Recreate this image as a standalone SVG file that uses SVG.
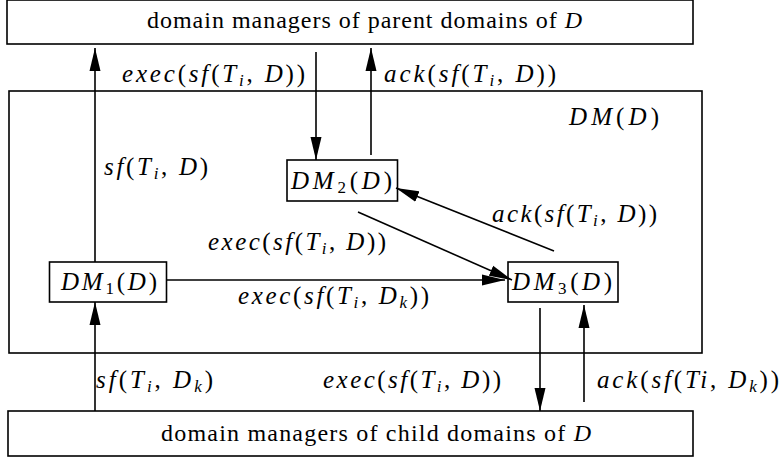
<svg xmlns="http://www.w3.org/2000/svg" width="784" height="460" viewBox="0 0 784 460">
  <style>
    .box { fill: none; stroke: #000; stroke-width: 1.6; }
    .edge { fill: none; stroke: #000; stroke-width: 1.6; marker-end: url(#head); }
    .m { font-family: "Liberation Serif", "DejaVu Serif", serif; font-style: italic; font-size: 25px; fill: #000; }
    .r { font-family: "Liberation Serif", "DejaVu Serif", serif; font-size: 24px; fill: #000; }
    .up { font-style: normal; }
    .sub { font-size: 17px; }
  </style>
  <defs>
    <marker id="head" markerUnits="userSpaceOnUse" markerWidth="24" markerHeight="12" refX="23" refY="6" orient="auto">
      <path d="M0,0.5 L23,6 L0,11.5 z" fill="#000"/>
    </marker>
  </defs>

  <rect width="784" height="460" fill="#fff"/>

  <!-- outer frame: the domain manager DM(D) -->
  <g id="dm">
    <rect class="box" x="9" y="91" width="693" height="262"/>
    <text class="m" x="569" y="125" textLength="90" lengthAdjust="spacing">DM<tspan class="up">(</tspan>D<tspan class="up">)</tspan></text>
  </g>

  <g id="parents">
    <rect class="box" x="7" y="0" width="686" height="44"/>
    <text class="r" x="147" y="28" textLength="435" lengthAdjust="spacing">domain managers of parent domains of <tspan font-style="italic">D</tspan></text>
  </g>

  <g id="children">
    <rect class="box" x="8" y="411" width="685" height="45"/>
    <text class="r" x="161" y="441" textLength="430" lengthAdjust="spacing">domain managers of child domains of <tspan font-style="italic">D</tspan></text>
  </g>

  <g id="dm1">
    <rect class="box" x="49.5" y="262" width="117" height="40"/>
    <text class="m" x="61" y="290" textLength="96" lengthAdjust="spacing">DM<tspan class="up sub" dy="4">1</tspan><tspan class="up" dy="-4">(</tspan>D<tspan class="up">)</tspan></text>
  </g>

  <g id="dm2">
    <rect class="box" x="287" y="160" width="110.5" height="41"/>
    <text class="m" x="291" y="189" textLength="101" lengthAdjust="spacing">DM<tspan class="up sub" dy="4">2</tspan><tspan class="up" dy="-4">(</tspan>D<tspan class="up">)</tspan></text>
  </g>

  <g id="dm3">
    <rect class="box" x="508" y="262" width="110" height="40"/>
    <text class="m" x="512" y="290" textLength="100" lengthAdjust="spacing">DM<tspan class="up sub" dy="4">3</tspan><tspan class="up" dy="-4">(</tspan>D<tspan class="up">)</tspan></text>
  </g>

  <!-- message flows -->
  <g id="connectors">
    <path class="edge" d="M95,262 L95,48"/>
    <path class="edge" d="M316,52 L316,160"/>
    <path class="edge" d="M371,155 L371,48"/>
    <path class="edge" d="M358,212 L512,280"/>
    <path class="edge" d="M554,251 L396,188"/>
    <path class="edge" d="M167,280 L505,280"/>
    <path class="edge" d="M540,308 L540,411"/>
    <path class="edge" d="M584,402 L584,305"/>
    <path class="edge" d="M95,411 L95,302"/>
  </g>

  <!-- flow labels -->
  <g id="labels">
    <text class="m" x="122" y="82" textLength="183" lengthAdjust="spacing">exec<tspan class="up">(</tspan>sf<tspan class="up">(</tspan>T<tspan class="sub" dy="4">i</tspan><tspan class="up" dy="-4">, </tspan>D<tspan class="up">))</tspan></text>
    <text class="m" x="384" y="82" textLength="172" lengthAdjust="spacing">ack<tspan class="up">(</tspan>sf<tspan class="up">(</tspan>T<tspan class="sub" dy="4">i</tspan><tspan class="up" dy="-4">, </tspan>D<tspan class="up">))</tspan></text>
    <text class="m" x="104" y="175" textLength="104" lengthAdjust="spacing">sf<tspan class="up">(</tspan>T<tspan class="sub" dy="4">i</tspan><tspan class="up" dy="-4">, </tspan>D<tspan class="up">)</tspan></text>
    <text class="m" x="208" y="250" textLength="178" lengthAdjust="spacing">exec<tspan class="up">(</tspan>sf<tspan class="up">(</tspan>T<tspan class="sub" dy="4">i</tspan><tspan class="up" dy="-4">, </tspan>D<tspan class="up">))</tspan></text>
    <text class="m" x="492" y="222" textLength="165" lengthAdjust="spacing">ack<tspan class="up">(</tspan>sf<tspan class="up">(</tspan>T<tspan class="sub" dy="4">i</tspan><tspan class="up" dy="-4">, </tspan>D<tspan class="up">))</tspan></text>
    <text class="m" x="238" y="304" textLength="191" lengthAdjust="spacing">exec<tspan class="up">(</tspan>sf<tspan class="up">(</tspan>T<tspan class="sub" dy="4">i</tspan><tspan class="up" dy="-4">, </tspan>D<tspan class="sub" dy="4">k</tspan><tspan class="up" dy="-4">))</tspan></text>
    <text class="m" x="96" y="388" textLength="117" lengthAdjust="spacing">sf<tspan class="up">(</tspan>T<tspan class="sub" dy="4">i</tspan><tspan class="up" dy="-4">, </tspan>D<tspan class="sub" dy="4">k</tspan><tspan class="up" dy="-4">)</tspan></text>
    <text class="m" x="323" y="388" textLength="178" lengthAdjust="spacing">exec<tspan class="up">(</tspan>sf<tspan class="up">(</tspan>T<tspan class="sub" dy="4">i</tspan><tspan class="up" dy="-4">, </tspan>D<tspan class="up">))</tspan></text>
    <text class="m" x="597" y="388" textLength="182" lengthAdjust="spacing">ack<tspan class="up">(</tspan>sf<tspan class="up">(</tspan>Ti<tspan class="up">, </tspan>D<tspan class="sub" dy="4">k</tspan><tspan class="up" dy="-4">))</tspan></text>
  </g>
</svg>
